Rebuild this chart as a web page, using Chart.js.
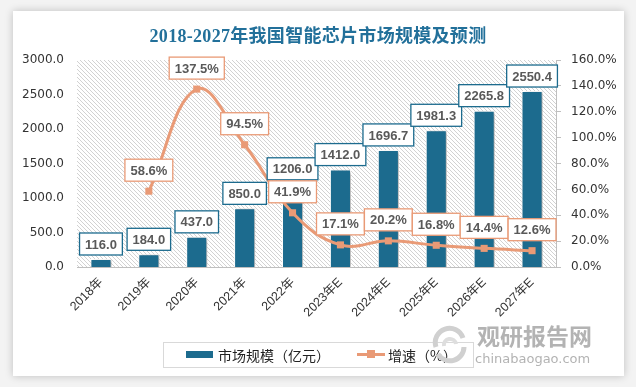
<!DOCTYPE html>
<html>
<head>
<meta charset="utf-8">
<script src="https://cdn.jsdelivr.net/npm/chart.js@4.4.0/dist/chart.umd.min.js"></script>
<style>
  html, body { margin: 0; padding: 0; }
  body { width: 636px; height: 387px; background: #f3f3f3; position: relative; overflow: hidden; }
  #card { position: absolute; left: 13px; top: 11px; width: 611px; height: 365px; background: #fff; box-shadow: 0 0 8px rgba(0,0,0,0.22); }
  #chart { position: absolute; left: 0; top: 0; }
  #title { position: absolute; left: 0; width: 636px; top: 21px; text-align: center;
    font: bold 18px "Liberation Serif", "Noto Sans CJK SC", serif; color: #22709a; letter-spacing: 0.3px; }
  #legend { position: absolute; left: 163px; top: 342px; width: 309px; height: 24px; border: 1px solid #d9d9d9;
    font: 14px "Noto Sans CJK SC", sans-serif; color: #222; }
  .lg { position: absolute; top: 2px; line-height: 20px; }
  #wm { position: absolute; left: 430px; top: 322px; color: #b3b3b3; }
</style>
</head>
<body>
<div id="card"></div>
<canvas id="chart" width="636" height="387"></canvas>
<div id="title">2018-2027年我国智能芯片市场规模及预测</div>
<div id="legend">
  <div style="position:absolute;left:22px;top:8px;width:27px;height:7px;background:#1c6b8e"></div>
  <div class="lg" style="left:54px">市场规模（亿元）</div>
  <div style="position:absolute;left:193px;top:10px;width:28px;height:3px;background:#e99a76"></div>
  <div style="position:absolute;left:203px;top:7px;width:8px;height:8px;background:#e99a76"></div>
  <div class="lg" style="left:224px">增速（%）</div>
</div>
<div id="wm">
  <svg width="40" height="40" style="position:absolute;left:0;top:3px" viewBox="0 0 40 40">
    <path d="M6 22 A14 14 0 0 1 33 13" stroke="#d0d0d0" stroke-width="5" fill="none"/>
    <path d="M34 22 A14 14 0 0 1 8 29" stroke="#d0d0d0" stroke-width="5" fill="none"/>
    <path d="M14 21 A6 6 0 0 1 26 19" stroke="#dedede" stroke-width="4" fill="none"/>
  </svg>
  <div style="position:absolute;left:47px;top:0;font:bold 23px 'Noto Sans CJK SC',sans-serif;line-height:27px;white-space:nowrap">观研报告网</div>
  <div style="position:absolute;left:45px;top:29px;font:13px 'DejaVu Sans',sans-serif;white-space:nowrap">chinabaogao.com</div>
</div>
<script>
const years = ['2018年', '2019年', '2020年', '2021年', '2022年', '2023年E', '2024年E', '2025年E', '2026年E', '2027年E'];
const marketSize = [116.0, 184.0, 437.0, 850.0, 1206.0, 1412.0, 1696.7, 1981.3, 2265.8, 2550.4];
const growth = [null, 58.6, 137.5, 94.5, 41.9, 17.1, 20.2, 16.8, 14.4, 12.6];

const BLUE = '#1c6b8e';
const ORANGE = '#e99a76';
const tickFont = { family: 'DejaVu Sans', size: 12 };

// diagonal "\" hatch for the plot area, drawn pixel by pixel
const hatchTile = document.createElement('canvas');
hatchTile.width = 4; hatchTile.height = 4;
(() => {
  const g = hatchTile.getContext('2d');
  g.fillStyle = '#fff';
  g.fillRect(0, 0, 4, 4);
  g.fillStyle = '#d2d2d2';
  for (let i = 0; i < 4; i++) g.fillRect(i, i, 1, 1);
})();

const bgPlugin = {
  id: 'bg',
  beforeDraw(chart) {
    const { ctx, chartArea: a } = chart;
    ctx.save();
    ctx.fillStyle = ctx.createPattern(hatchTile, 'repeat');
    ctx.fillRect(a.left, a.top, a.right - a.left, a.bottom - a.top);
    ctx.restore();
  }
};

const shadowPlugin = {
  id: 'barShadow',
  beforeDatasetDraw(chart, args) {
    if (args.index !== 0) return;
    const ctx = chart.ctx;
    ctx.save();
    ctx.shadowColor = 'rgba(0,0,0,0.35)';
    ctx.shadowBlur = 3;
    ctx.shadowOffsetX = 2;
    ctx.shadowOffsetY = 1;
  },
  afterDatasetDraw(chart, args) {
    if (args.index !== 0) return;
    chart.ctx.restore();
  }
};

function drawBox(ctx, x, cy, text, color) {
  ctx.font = 'bold 13px "Liberation Sans", Arial, sans-serif';
  const w = ctx.measureText(text).width + 11;
  const h = 22;
  ctx.fillStyle = '#fff';
  ctx.fillRect(x - w / 2, cy - h / 2, w, h);
  ctx.strokeStyle = color;
  ctx.lineWidth = 1.3;
  ctx.strokeRect(x - w / 2, cy - h / 2, w, h);
  ctx.fillStyle = '#595959';
  ctx.textAlign = 'center';
  ctx.textBaseline = 'middle';
  ctx.fillText(text, x, cy + 1);
}

const labelPlugin = {
  id: 'labels',
  afterDatasetsDraw(chart) {
    const ctx = chart.ctx;
    ctx.save();
    chart.getDatasetMeta(0).data.forEach((el, i) => {
      drawBox(ctx, el.x, el.y - 15, marketSize[i].toFixed(1), BLUE);
    });
    chart.getDatasetMeta(1).data.forEach((el, i) => {
      if (growth[i] === null) return;
      drawBox(ctx, el.x, el.y - 21, growth[i].toFixed(1) + '%', ORANGE);
    });
    ctx.restore();
  }
};

new Chart(document.getElementById('chart').getContext('2d'), {
  data: {
    labels: years,
    datasets: [
      {
        type: 'bar',
        label: '市场规模（亿元）',
        data: marketSize,
        backgroundColor: BLUE,
        borderColor: '#ffffff',
        borderWidth: 1,
        barPercentage: 0.44,
        categoryPercentage: 1,
        yAxisID: 'y',
        order: 2
      },
      {
        type: 'line',
        label: '增速（%）',
        data: growth,
        borderColor: ORANGE,
        backgroundColor: ORANGE,
        borderWidth: 3,
        tension: 0.4,
        pointStyle: 'rect',
        pointRadius: 5,
        pointBorderWidth: 0,
        yAxisID: 'y1',
        order: 1
      }
    ]
  },
  options: {
    responsive: false,
    animation: false,
    layout: { padding: { top: 60, left: 0, right: 0, bottom: 0 } },
    plugins: {
      legend: { display: false },
      tooltip: { enabled: false },
      title: { display: false }
    },
    scales: {
      x: {
        grid: { display: false, drawTicks: false },
        border: { display: true, color: '#bfbfbf', width: 1 },
        ticks: {
          color: '#333',
          font: { family: '"Liberation Sans", "Noto Sans CJK SC", sans-serif', size: 12.5 },
          maxRotation: 45,
          minRotation: 45,
          padding: 8
        },
        afterFit(s) { s.height = 120; }
      },
      y: {
        position: 'left',
        min: 0,
        max: 3000,
        grid: { display: false, drawTicks: false },
        border: { display: false },
        ticks: {
          stepSize: 500,
          color: '#333',
          font: tickFont,
          padding: 13,
          callback: v => v.toFixed(1)
        },
        afterFit(s) { s.width = 77; }
      },
      y1: {
        position: 'right',
        min: 0,
        max: 160,
        grid: { display: true, drawOnChartArea: false, drawTicks: true, tickLength: 5, color: '#bfbfbf' },
        border: { display: true, color: '#bfbfbf' },
        ticks: {
          stepSize: 20,
          color: '#333',
          font: tickFont,
          padding: 10,
          callback: v => v.toFixed(1) + '%'
        },
        afterFit(s) { s.width = 80; }
      }
    }
  },
  plugins: [bgPlugin, shadowPlugin, labelPlugin]
});
</script>
</body>
</html>
